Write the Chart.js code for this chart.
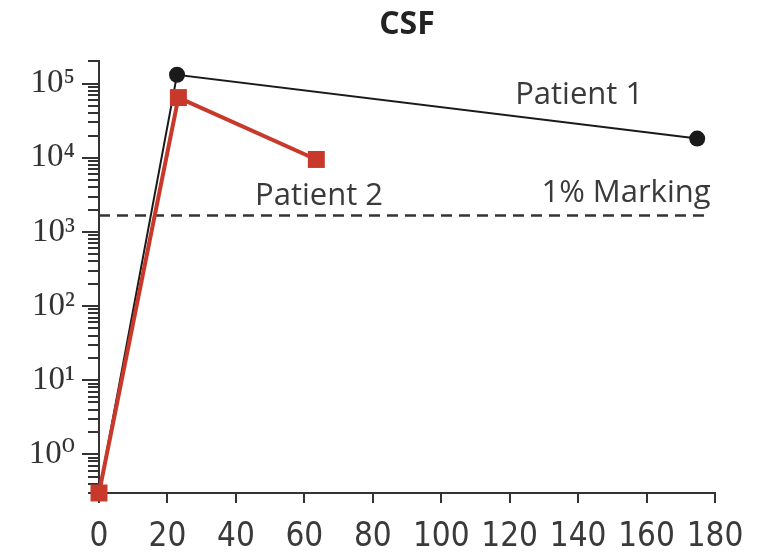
<!DOCTYPE html>
<html>
<head>
<meta charset="utf-8">
<title>CSF</title>
<script src="https://cdn.jsdelivr.net/npm/chart.js@4.4.1/dist/chart.umd.min.js"></script>
<style>
    html, body { margin: 0; padding: 0; background: #ffffff; }
    #wrap { width: 764px; height: 552px; }
</style>
</head>
<body>
<div id="wrap"><canvas id="csfChart" width="764" height="552"></canvas></div>
<script>
// Days after infusion
const patient1Days = [0, 22.8, 174.8];
const patient1Values = [0.3, 1.32e5, 1.82e4];

const patient2Days = [0, 23.2, 63.5];
const patient2Values = [0.3, 6.5e4, 9.5e3];

// 1% marking threshold
const markingDays = [0, 178.7];
const markingValues = [1.66e3, 1.66e3];

const xTicks = [0, 20, 40, 60, 80, 100, 120, 140, 160, 180];
const yMajorTicks = [1e0, 1e1, 1e2, 1e3, 1e4, 1e5];
const yTickLabels = ['10\u2070', '10\u00B9', '10\u00B2', '10\u00B3', '10\u2074', '10\u2075'];
const yMinorFactors = [2, 3, 4, 5, 6, 7, 8, 9];

// Text labels: [text, day, value (baseline), align]
const seriesLabels = [
    ['Patient 1', 121.6, 5.37e4, 'left'],
    ['Patient 2', 45.6, 2.34e3, 'left'],
    ['1% Marking', 178.7, 2.57e3, 'right']
];

const Y_MIN = 0.3;
const Y_MAX = 2e5;
const INK = '#333333';
const RED = '#c8392b';

function buildLogTicks() {
    const ticks = [];
    for (let exp = -1; exp <= 5; exp++) {
        const base = Math.pow(10, exp);
        [1].concat(yMinorFactors).forEach(f => {
            const v = +(f * base).toPrecision(3);
            if (v >= Y_MIN - 1e-9 && v <= Y_MAX + 1e-9) {
                ticks.push({ value: v });
            }
        });
    }
    return ticks;
}

function majorLabel(value) {
    const idx = yMajorTicks.findIndex(m => Math.abs(m - value) / m < 1e-6);
    return idx >= 0 ? yTickLabels[idx] : '';
}

// Longer ticks on the decades
const majorTickPlugin = {
    id: 'majorTicks',
    afterDraw(chart) {
        const y = chart.scales.y;
        const ctx = chart.ctx;
        const left = chart.chartArea.left;
        ctx.save();
        ctx.strokeStyle = INK;
        ctx.lineWidth = 2;
        yMajorTicks.forEach(v => {
            const py = Math.round(y.getPixelForValue(v));
            ctx.beginPath();
            ctx.moveTo(left - 17, py);
            ctx.lineTo(left, py);
            ctx.stroke();
        });
        ctx.restore();
    }
};

const seriesLabelPlugin = {
    id: 'seriesLabels',
    afterDatasetsDraw(chart) {
        const { x, y } = chart.scales;
        const ctx = chart.ctx;
        ctx.save();
        ctx.fillStyle = '#3a3a3a';
        ctx.font = '31px "Open Sans", "Noto Sans", sans-serif';
        ctx.textBaseline = 'alphabetic';
        seriesLabels.forEach(([text, day, value, align]) => {
            ctx.textAlign = align;
            ctx.fillText(text, x.getPixelForValue(day), y.getPixelForValue(value));
        });
        ctx.restore();
    }
};

const toPoints = (xs, ys) => xs.map((d, i) => ({ x: d, y: ys[i] }));

new Chart(document.getElementById('csfChart'), {
    type: 'line',
    data: {
        datasets: [
            {
                label: 'Patient 2',
                data: toPoints(patient2Days, patient2Values),
                borderColor: RED,
                backgroundColor: RED,
                borderWidth: 4,
                pointStyle: 'rect',
                pointRadius: 12,
                pointBorderWidth: 0,
                clip: false
            },
            {
                label: 'Patient 1',
                data: toPoints(patient1Days, patient1Values),
                borderColor: '#1a1a1a',
                backgroundColor: '#1a1a1a',
                borderWidth: 2,
                pointStyle: 'circle',
                pointRadius: 8,
                pointBorderWidth: 0,
                clip: false
            },
            {
                label: '1% Marking',
                data: toPoints(markingDays, markingValues),
                borderColor: INK,
                borderWidth: 2.5,
                borderDash: [11, 7],
                pointRadius: 0,
                clip: false
            }
        ]
    },
    options: {
        responsive: false,
        animation: false,
        layout: { padding: { left: 0, right: 49, top: 0, bottom: 0 } },
        plugins: {
            legend: { display: false },
            tooltip: { enabled: false },
            title: {
                display: true,
                text: 'CSF',
                fullSize: false,
                color: '#222222',
                font: { family: '"Open Sans", "Noto Sans", sans-serif', size: 32, weight: 'bold' },
                padding: { top: 6, bottom: 17 }
            }
        },
        scales: {
            x: {
                type: 'linear',
                min: 0,
                max: 180,
                afterBuildTicks: scale => { scale.ticks = xTicks.map(v => ({ value: v })); },
                afterFit: scale => { scale.height = 59; },
                border: { color: INK, width: 2 },
                grid: { drawOnChartArea: false, drawTicks: true, tickLength: 10, color: INK, lineWidth: 2 },
                ticks: {
                    autoSkip: false,
                    maxRotation: 0,
                    padding: 15,
                    color: '#3a3a3a',
                    font: { family: '"Liberation Sans Narrow", "DejaVu Sans Condensed", sans-serif', size: 33 }
                }
            },
            y: {
                type: 'logarithmic',
                min: Y_MIN,
                max: Y_MAX,
                afterBuildTicks: scale => { scale.ticks = buildLogTicks(); },
                afterFit: scale => { scale.width = 99; },
                border: { color: INK, width: 2 },
                grid: { drawOnChartArea: false, drawTicks: true, tickLength: 11, color: INK, lineWidth: 2 },
                ticks: {
                    autoSkip: false,
                    padding: 13,
                    color: INK,
                    font: { family: '"Liberation Serif", "DejaVu Serif", serif', size: 33 },
                    callback: value => majorLabel(value)
                }
            }
        }
    },
    plugins: [majorTickPlugin, seriesLabelPlugin]
});
</script>
</body>
</html>
